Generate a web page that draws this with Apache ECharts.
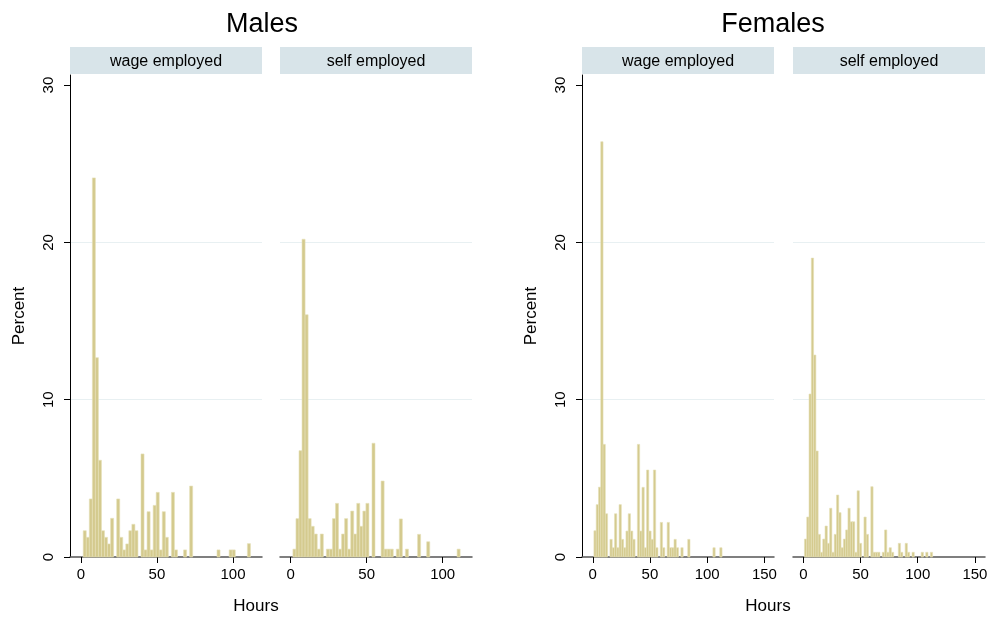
<!DOCTYPE html>
<html>
<head>
<meta charset="utf-8">
<script src="https://cdn.jsdelivr.net/npm/echarts@6/dist/echarts.min.js"></script>
<style>
html,body{margin:0;padding:0;background:#fff;}
#chart{width:993px;height:618px;}
</style>
</head>
<body>
<div id="chart"></div>
<script>
// ---------- data (percent per 2-hour bin) ----------
const binWidth = 2;
const maleBinStart = 1.5;
const femaleBinStart = 1;

const groupTitles = ['Males', 'Females'];
const panelLabels = ['wage employed', 'self employed'];
const maleHourTicks = [0, 50, 100];
const femaleHourTicks = [0, 50, 100, 150];
const percentTicks = [0, 10, 20, 30];

const maleWage = [1.67, 1.25, 3.69, 24.1, 12.67, 6.15, 1.67, 1.25, 0.83, 2.46,
  0, 3.69, 1.25, 0.45, 0.83, 1.67, 2.08, 1.67, 0, 6.55,
  0.45, 2.88, 0.45, 3.28, 4.11, 0.45, 2.88, 1.25, 0, 4.11,
  0.45, 0, 0, 0.45, 0, 4.51, 0, 0, 0, 0,
  0, 0, 0, 0, 0.45, 0, 0, 0, 0.45, 0.45,
  0, 0, 0, 0, 0.85];

const maleSelf = [0.5, 2.44, 6.76, 20.2, 15.4, 2.44, 1.95, 1.46, 0.5, 1.46,
  0, 0.5, 0.5, 2.44, 3.41, 0.5, 1.46, 2.44, 0.5, 2.92,
  1.46, 3.41, 1.95, 2.92, 3.41, 0, 7.23, 0, 0, 4.83,
  0.5, 0.5, 0.5, 0, 0.5, 2.42, 0, 0.5, 0, 0,
  0, 1.44, 0, 0, 0.97, 0, 0, 0, 0, 0,
  0, 0, 0, 0, 0.5];

const femaleWage = [1.67, 3.33, 4.44, 26.4, 7.16, 2.75, 0, 1.12, 0.59, 2.75,
  0.59, 3.33, 1.12, 0.59, 1.65, 2.75, 1.65, 1.12, 0, 7.16,
  1.65, 4.43, 0.59, 5.53, 1.65, 1.12, 5.53, 0.59, 0, 2.2,
  0.59, 0, 2.2, 0.59, 0.59, 1.12, 0.59, 0, 0.59, 0,
  0, 1.12, 0, 0, 0, 0, 0, 0, 0, 0,
  0, 0, 0.59, 0, 0, 0.59];

const femaleSelf = [1.14, 2.54, 10.36, 19.0, 12.84, 6.74, 1.44, 0.3, 1.14, 1.97,
  0.87, 3.1, 0.3, 1.44, 3.94, 2.82, 0.59, 1.14, 1.72, 3.1,
  2.24, 2.24, 0.3, 4.21, 0.87, 0, 2.54, 1.44, 0, 4.47,
  0.3, 0.3, 0.3, 0, 0.3, 1.72, 0.3, 0.59, 0.3, 0,
  0, 0.87, 0.3, 0, 0.87, 0.3, 0, 0.3, 0, 0,
  0, 0.3, 0, 0.3, 0, 0.3];

// ---------- layout ----------
const FONT = '"Liberation Sans", Arial, Helvetica, sans-serif';
const barFill = '#d4ca8e';
const barEdge = '#e6e0b8';
const gridColor = '#e8f0f2';
const stripColor = '#d8e4e9';

const panels = [
  {data: maleWage, start: maleBinStart, left: 70, width: 192, min: -7.2, max: 119.1, ticks: maleHourTicks, showY: true, label: panelLabels[0]},
  {data: maleSelf, start: maleBinStart, left: 280, width: 192, min: -7.0, max: 119.3, ticks: maleHourTicks, showY: false, label: panelLabels[1]},
  {data: femaleWage, start: femaleBinStart, left: 582, width: 192, min: -9.4, max: 158.4, ticks: femaleHourTicks, showY: true, label: panelLabels[0]},
  {data: femaleSelf, start: femaleBinStart, left: 793, width: 192, min: -9.0, max: 158.8, ticks: femaleHourTicks, showY: false, label: panelLabels[1]}
];
const plotTop = 75, plotHeight = 482, yMax = 30.64;

const grids = [], xAxes = [], yAxes = [], series = [], graphics = [];

panels.forEach((p, i) => {
  grids.push({left: p.left, top: plotTop, width: p.width, height: plotHeight, containLabel: false});
  xAxes.push({
    type: 'value', gridIndex: i, min: p.min, max: p.max,
    axisLine: {show: true, onZero: false, lineStyle: {color: '#555', width: 1.5}},
    axisTick: {show: true, length: 6, customValues: p.ticks, lineStyle: {color: '#000', width: 1}},
    axisLabel: {show: true, customValues: p.ticks, margin: 10, fontFamily: FONT, fontSize: 15, color: '#000'},
    splitLine: {show: false}
  });
  yAxes.push({
    type: 'value', gridIndex: i, min: 0, max: yMax, interval: 10,
    name: p.showY ? 'Percent' : '', nameLocation: 'middle', nameRotate: 90, nameGap: 42,
    nameTextStyle: {fontFamily: FONT, fontSize: 17, color: '#000'},
    axisLine: {show: p.showY, onZero: false, lineStyle: {color: '#000', width: 1}},
    axisTick: {show: p.showY, length: 6, customValues: percentTicks, lineStyle: {color: '#000'}},
    axisLabel: {show: p.showY, customValues: percentTicks, rotate: 90, margin: 14, fontFamily: FONT, fontSize: 15, color: '#000'},
    splitLine: {show: true, showMinLine: false, showMaxLine: false, lineStyle: {color: gridColor, width: 1}}
  });
  const rows = [];
  p.data.forEach((v, k) => { if (v > 0) rows.push([p.start + k * binWidth, v]); });
  series.push({
    type: 'custom', xAxisIndex: i, yAxisIndex: i, data: rows, z: 3,
    encode: {x: 0, y: 1},
    renderItem: function (params, api) {
      const x0 = api.value(0), v = api.value(1);
      const a = api.coord([x0, v]);
      const b = api.coord([x0 + binWidth, 0]);
      return {type: 'rect', shape: {x: a[0], y: a[1], width: b[0] - a[0], height: b[1] - a[1]},
        style: {fill: barFill, stroke: barEdge, lineWidth: 0.6}};
    }
  });
  graphics.push({type: 'rect', left: p.left, top: 47, shape: {width: p.width, height: 27}, style: {fill: stripColor}, silent: true});
  graphics.push({type: 'text', x: p.left + p.width / 2, y: 62, style: {text: p.label, font: '16px ' + FONT, fill: '#000', textAlign: 'center', textVerticalAlign: 'middle'}});
});

graphics.push({type: 'text', x: 256, y: 606, style: {text: 'Hours', font: '17px ' + FONT, fill: '#000', textAlign: 'center', textVerticalAlign: 'middle'}});
graphics.push({type: 'text', x: 768, y: 606, style: {text: 'Hours', font: '17px ' + FONT, fill: '#000', textAlign: 'center', textVerticalAlign: 'middle'}});

const chart = echarts.init(document.getElementById('chart'), null, {renderer: 'canvas'});
chart.setOption({
  animation: false,
  backgroundColor: '#fff',
  title: [
    {text: groupTitles[0], left: 257, top: 6, textAlign: 'center', textStyle: {fontFamily: FONT, fontSize: 27, fontWeight: 'normal', color: '#000'}},
    {text: groupTitles[1], left: 768, top: 6, textAlign: 'center', textStyle: {fontFamily: FONT, fontSize: 27, fontWeight: 'normal', color: '#000'}}
  ],
  grid: grids, xAxis: xAxes, yAxis: yAxes, series: series, graphic: graphics
});
</script>
</body>
</html>
